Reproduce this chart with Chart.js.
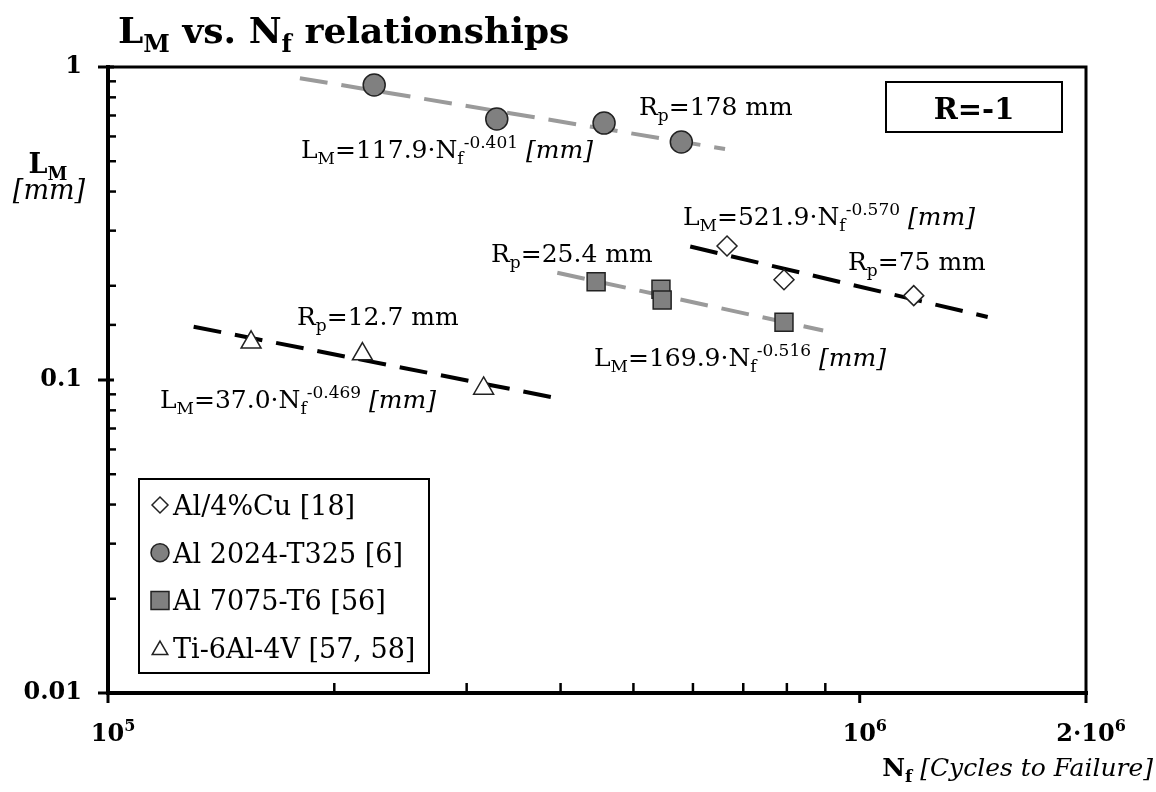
<!DOCTYPE html>
<html>
<head>
<meta charset="utf-8">
<script src="https://cdn.jsdelivr.net/npm/chart.js@4.4.1/dist/chart.umd.min.js"></script>
<style>
html, body { margin: 0; padding: 0; background: #fff; }
#wrap { width: 1156px; height: 792px; }
</style>
</head>
<body>
<div id="wrap"><canvas id="chart" width="1156" height="792"></canvas></div>
<script>
// data (Nf in cycles, LM in mm)
var seriesNames = ['Al/4%Cu [18]', 'Al 2024-T325 [6]', 'Al 7075-T6 [56]', 'Ti-6Al-4V [57, 58]'];

var cuN = [6.66e5, 7.93e5, 1.18e6];
var cuL = [0.268, 0.209, 0.186];
var al2024N = [2.26e5, 3.29e5, 4.57e5, 5.79e5];
var al2024L = [0.876, 0.682, 0.662, 0.576];
var al7075N = [4.46e5, 5.44e5, 5.46e5, 7.93e5];
var al7075L = [0.206, 0.195, 0.180, 0.153];
var tiN = [1.55e5, 2.18e5, 3.16e5];
var tiL = [0.132, 0.121, 0.094];

// power-law fit lines, end points
var cuFitN = [5.95e5, 1.48e6];
var cuFitL = [0.267, 0.159];
var al2024FitN = [1.80e5, 6.62e5];
var al2024FitL = [0.921, 0.547];
var al7075FitN = [3.96e5, 8.94e5];
var al7075FitL = [0.220, 0.144];
var tiFitN = [1.30e5, 3.91e5];
var tiFitL = [0.148, 0.088];

var xTicks = [1e5, 1e6, 2e6];
var xTickLabels = [['10', '5'], ['10', '6'], ['2·10', '6']];
var yTicks = [0.01, 0.1, 1];
var yTickLabels = ['0.01', '0.1', '1'];

var FONT = "'DejaVu Serif', serif";
var GREY = '#808080';

function pts(xs, ys) {
    return xs.map(function(x, i) { return {x: x, y: ys[i]}; });
}

function pointSet(label, xs, ys, style, radius, fill) {
    return {
        type: 'scatter', label: label, data: pts(xs, ys), order: 1,
        pointStyle: style, pointRadius: radius, pointBackgroundColor: fill,
        pointBorderColor: '#222', pointBorderWidth: 1.5, showLine: false
    };
}

function fitSet(xs, ys, color) {
    return {
        type: 'line', label: '', data: pts(xs, ys), order: 2,
        borderColor: color, borderWidth: 4, borderDash: [28, 14],
        pointRadius: 0, fill: false, tension: 0
    };
}

// text with sub/superscripts: flags B bold, I italic, d sub, u sup
function drawRich(ctx, parts, x, y, size, align) {
    function fnt(f) {
        var s = (f.indexOf('d') >= 0 || f.indexOf('u') >= 0) ? Math.round(size * 0.66) : size;
        return (f.indexOf('I') >= 0 ? 'italic ' : '') + (f.indexOf('B') >= 0 ? 'bold ' : '') + s + 'px ' + FONT;
    }
    var w = 0;
    parts.forEach(function(p) { ctx.font = fnt(p[1]); w += ctx.measureText(p[0]).width; });
    var cx = align == 'right' ? x - w : (align == 'center' ? x - w / 2 : x);
    ctx.textAlign = 'left';
    ctx.textBaseline = 'alphabetic';
    ctx.fillStyle = '#000';
    parts.forEach(function(p) {
        ctx.font = fnt(p[1]);
        var dy = p[1].indexOf('d') >= 0 ? size * 0.25 : (p[1].indexOf('u') >= 0 ? -size * 0.4 : 0);
        ctx.fillText(p[0], cx, y + dy);
        cx += ctx.measureText(p[0]).width;
    });
}

var decor = {
    id: 'decor',
    beforeDatasetsDraw: function(chart) {
        var ctx = chart.ctx, a = chart.chartArea;
        var xs = chart.scales.x, ys = chart.scales.y;
        ctx.save();
        ctx.strokeStyle = '#000';
        // frame
        ctx.lineWidth = 3;
        ctx.beginPath();
        ctx.moveTo(a.left, a.top); ctx.lineTo(a.right, a.top); ctx.lineTo(a.right, a.bottom);
        ctx.stroke();
        ctx.lineWidth = 4;
        ctx.beginPath();
        ctx.moveTo(a.left, a.top - 2); ctx.lineTo(a.left, a.bottom); ctx.lineTo(a.right + 2, a.bottom);
        ctx.stroke();
        // ticks, minor ones pointing inside
        ys.ticks.forEach(function(t) {
            var p = ys.getPixelForValue(t.value);
            ctx.beginPath();
            if (yTicks.indexOf(t.value) >= 0) {
                ctx.lineWidth = 3;
                ctx.moveTo(a.left - 10, p); ctx.lineTo(a.left + 6, p);
            } else {
                ctx.lineWidth = 2.5;
                ctx.moveTo(a.left, p); ctx.lineTo(a.left + 8, p);
            }
            ctx.stroke();
        });
        xs.ticks.forEach(function(t) {
            var p = xs.getPixelForValue(t.value);
            ctx.beginPath();
            if (xTicks.indexOf(t.value) >= 0) {
                ctx.lineWidth = 3;
                ctx.moveTo(p, a.bottom); ctx.lineTo(p, a.bottom + 10);
            } else if (t.value < 1e6) {
                ctx.lineWidth = 2.5;
                ctx.moveTo(p, a.bottom); ctx.lineTo(p, a.bottom - 10);
            }
            ctx.stroke();
        });
        ctx.restore();
    },
    afterDraw: function(chart) {
        var ctx = chart.ctx, a = chart.chartArea;
        var xs = chart.scales.x;
        ctx.save();
        // x tick labels with real superscripts
        xTicks.forEach(function(v, i) {
            drawRich(ctx, [[xTickLabels[i][0], 'B'], [xTickLabels[i][1], 'Bu']], xs.getPixelForValue(v) + 5, a.bottom + 48, 24, 'center');
        });

        // title and axis titles
        drawRich(ctx, [['L', 'B'], ['M', 'Bd'], [' vs. N', 'B'], ['f', 'Bd'], [' relationships', 'B']], 118, 43, 36, 'left');
        drawRich(ctx, [['L', 'B'], ['M', 'Bd']], 48, 173, 27, 'center');
        drawRich(ctx, [['[mm]', 'I']], 49, 199, 27, 'center');
        drawRich(ctx, [['N', 'B'], ['f', 'Bd'], [' [Cycles to Failure]', 'I']], 1153, 776, 25, 'right');

        // fit labels
        drawRich(ctx, [['R', ''], ['p', 'd'], ['=178 mm', '']], 639, 115, 25, 'left');
        drawRich(ctx, [['L', ''], ['M', 'd'], ['=117.9·N', ''], ['f', 'd'], ['-0.401', 'u'], [' [mm]', 'I']], 301, 158, 25, 'left');
        drawRich(ctx, [['L', ''], ['M', 'd'], ['=521.9·N', ''], ['f', 'd'], ['-0.570', 'u'], [' [mm]', 'I']], 683, 225, 25, 'left');
        drawRich(ctx, [['R', ''], ['p', 'd'], ['=75 mm', '']], 848, 270, 25, 'left');
        drawRich(ctx, [['R', ''], ['p', 'd'], ['=25.4 mm', '']], 491, 262, 25, 'left');
        drawRich(ctx, [['L', ''], ['M', 'd'], ['=169.9·N', ''], ['f', 'd'], ['-0.516', 'u'], [' [mm]', 'I']], 594, 366, 25, 'left');
        drawRich(ctx, [['R', ''], ['p', 'd'], ['=12.7 mm', '']], 297, 325, 25, 'left');
        drawRich(ctx, [['L', ''], ['M', 'd'], ['=37.0·N', ''], ['f', 'd'], ['-0.469', 'u'], [' [mm]', 'I']], 160, 408, 25, 'left');

        // R=-1 box
        ctx.lineWidth = 2;
        ctx.strokeStyle = '#000';
        ctx.strokeRect(886, 82, 176, 50);
        drawRich(ctx, [['R=-1', 'B']], 974, 119, 29, 'center');

        // legend box
        ctx.fillStyle = '#fff';
        ctx.fillRect(139, 479, 290, 194);
        ctx.strokeRect(139, 479, 290, 194);
        var legendSets = chart.data.datasets.filter(function(d) { return d.label; });
        legendSets.forEach(function(d, i) {
            var y = 515 + i * 47.7;
            ctx.fillStyle = d.pointBackgroundColor;
            ctx.strokeStyle = '#222';
            ctx.lineWidth = 1.5;
            var r = d.pointStyle == 'circle' ? 9 : (d.pointStyle == 'rect' ? 12.7 : (d.pointStyle == 'rectRot' ? 8 : 9));
            var cy = y - (d.pointStyle == 'triangle' ? 8 : 10);
            Chart.helpers.drawPoint(ctx, {pointStyle: d.pointStyle, radius: r, rotation: 0, borderWidth: 1.5}, 160, cy);
            drawRich(ctx, [[d.label, '']], 173, y, 27, 'left');
        });
        ctx.restore();
    }
};

var chart = new Chart(document.getElementById('chart'), {
    data: {
        datasets: [
            pointSet(seriesNames[0], cuN, cuL, 'rectRot', 10, '#fff'),
            pointSet(seriesNames[1], al2024N, al2024L, 'circle', 11, GREY),
            pointSet(seriesNames[2], al7075N, al7075L, 'rect', 12.7, GREY),
            pointSet(seriesNames[3], tiN, tiL, 'triangle', 11.5, '#fff'),
            fitSet(cuFitN, cuFitL, '#000'),
            fitSet(al2024FitN, al2024FitL, '#9a9a9a'),
            fitSet(al7075FitN, al7075FitL, '#9a9a9a'),
            fitSet(tiFitN, tiFitL, '#000')
        ]
    },
    options: {
        responsive: false,
        animation: false,
        devicePixelRatio: 1,
        layout: { padding: { left: 0, top: 67, right: 70, bottom: 0 } },
        plugins: { legend: { display: false }, title: { display: false }, tooltip: { enabled: false } },
        scales: {
            x: {
                type: 'logarithmic', min: 1e5, max: 2e6,
                grid: { display: false, drawTicks: false },
                border: { display: false },
                afterFit: function(s) { s.height = 99; },
                ticks: { display: false, autoSkip: false }
            },
            y: {
                type: 'logarithmic', min: 0.01, max: 1,
                grid: { display: false, drawTicks: false },
                border: { display: false },
                afterFit: function(s) { s.width = 108; },
                ticks: {
                    autoSkip: false, padding: 26, color: '#000',
                    font: { family: FONT, size: 24, weight: 'bold' },
                    callback: function(v) {
                        var i = yTicks.indexOf(v);
                        return i >= 0 ? yTickLabels[i] : '';
                    }
                }
            }
        }
    },
    plugins: [decor]
});
</script>
</body>
</html>
